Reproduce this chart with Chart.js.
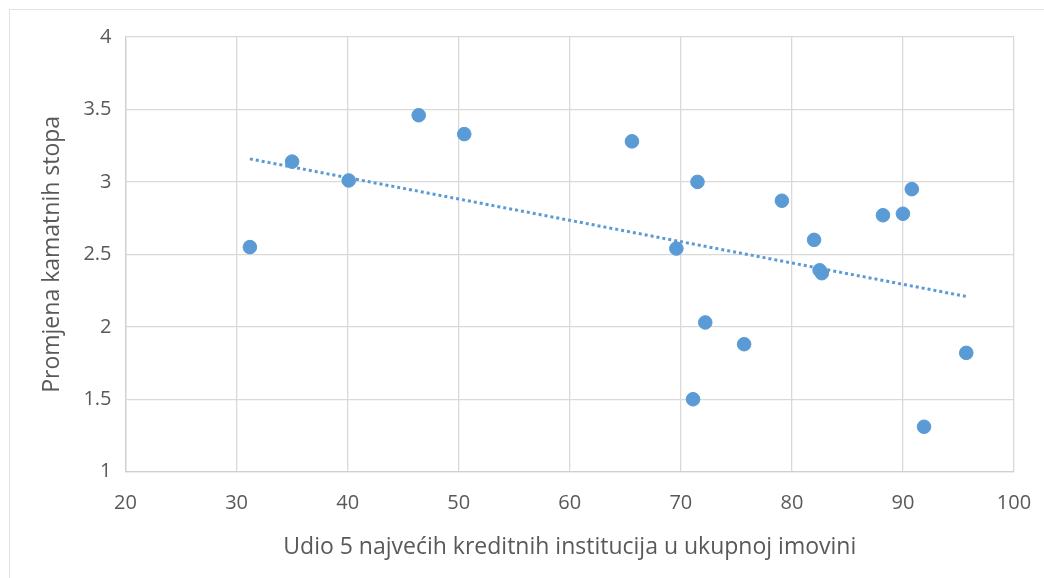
<!DOCTYPE html>
<html>
<head>
<meta charset="utf-8">
<script src="https://cdn.jsdelivr.net/npm/chart.js@4.4.1/dist/chart.umd.min.js"></script>
<style>
html,body{margin:0;padding:0;background:#fff;}
#wrap{width:1044px;height:578px;position:relative;}
</style>
</head>
<body>
<div id="wrap"><canvas id="c" width="1044" height="578"></canvas></div>
<script>
const shareTop5 = [31.2, 35.0, 40.1, 46.4, 50.5, 65.6, 71.5, 69.6, 79.1, 82.0, 82.5, 82.7, 88.2, 90.0, 90.8, 72.2, 75.7, 71.1, 91.9, 95.7];
const rateChange = [2.55, 3.14, 3.01, 3.46, 3.33, 3.28, 3.00, 2.54, 2.87, 2.60, 2.39, 2.37, 2.77, 2.78, 2.95, 2.03, 1.88, 1.50, 1.31, 1.82];
const xTitle = 'Udio 5 najvećih kreditnih institucija u ukupnoj imovini';
const yTitle = 'Promjena kamatnih stopa';

const points = shareTop5.map((x, i) => ({x: x, y: rateChange[i]}));

// linear trend line (least squares) computed from the data
const n = shareTop5.length;
const mx = shareTop5.reduce((a, b) => a + b, 0) / n;
const my = rateChange.reduce((a, b) => a + b, 0) / n;
let sxy = 0, sxx = 0;
for (let i = 0; i < n; i++) { sxy += (shareTop5[i] - mx) * (rateChange[i] - my); sxx += (shareTop5[i] - mx) ** 2; }
const slope = sxy / sxx, icpt = my - slope * mx;
const xMin = Math.min(...shareTop5), xMax = Math.max(...shareTop5);
const trend = [{x: xMin, y: icpt + slope * xMin}, {x: xMax, y: icpt + slope * xMax}];

const frame = {
  id: 'frame',
  beforeDraw(chart) {
    const ctx = chart.ctx;
    ctx.save();
    ctx.fillStyle = '#fff';
    ctx.fillRect(0, 0, chart.width, chart.height);
    ctx.strokeStyle = '#e3e3e3';
    ctx.lineWidth = 1;
    ctx.strokeRect(9.5, 9.5, 1200, 1000);
    ctx.restore();
  }
};

const fontFam = '"Open Sans", "Noto Sans", sans-serif';
const blue = '#5b9bd5';

new Chart(document.getElementById('c'), {
  type: 'scatter',
  data: {
    datasets: [
      {
        label: 'data',
        data: points,
        backgroundColor: blue,
        borderColor: blue,
        pointRadius: 6.8,
        pointBorderWidth: 1,
        order: 1
      },
      {
        label: 'trend',
        type: 'line',
        data: trend,
        borderColor: blue,
        borderWidth: 3,
        borderDash: [3, 3],
        pointRadius: 0,
        fill: false,
        order: 2
      }
    ]
  },
  options: {
    responsive: false,
    animation: false,
    devicePixelRatio: 1,
    layout: { padding: { top: 37, right: 30, left: 30, bottom: 0 } },
    plugins: { legend: { display: false }, tooltip: { enabled: false } },
    scales: {
      x: {
        type: 'linear',
        min: 20, max: 100,
        afterFit(s) { s.height = 106.3; s.paddingLeft = 0; s.paddingRight = 0; },
        ticks: { stepSize: 10, color: '#595959', font: { family: fontFam, size: 20 }, padding: 20 },
        grid: { color: '#d9d9d9', lineWidth: 1.3, drawTicks: false },
        border: { color: '#d0d0d0', width: 1.3 },
        title: { display: true, text: xTitle, color: '#595959', font: { family: fontFam, size: 23 }, padding: { top: 0, bottom: 17 } }
      },
      y: {
        type: 'linear',
        min: 1, max: 4,
        afterFit(s) { s.width = 95.5; s.paddingTop = 0; s.paddingBottom = 0; },
        ticks: { stepSize: 0.5, color: '#595959', font: { family: fontFam, size: 20 }, padding: 14,
                 callback: (v) => String(v) },
        grid: { color: '#d9d9d9', lineWidth: 1.3, drawTicks: false },
        border: { color: '#d0d0d0', width: 1.3 },
        title: { display: true, text: yTitle, color: '#595959', font: { family: fontFam, size: 23 }, padding: { top: 9, bottom: 9 } }
      }
    }
  },
  plugins: [frame]
});
</script>
</body>
</html>
